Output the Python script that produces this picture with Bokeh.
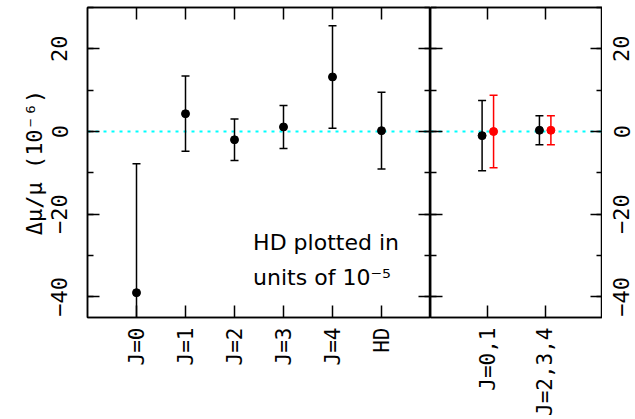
import math
from bokeh.plotting import figure
from bokeh.models import (FixedTicker, SingleIntervalTicker, LinearAxis, Span, Label, Range1d)
from bokeh.layouts import row
from bokeh.embed import file_html
from bokeh.resources import INLINE

# ---------------- data ----------------
left_labels = ["J=0", "J=1", "J=2", "J=3", "J=4", "HD"]
left_values = [-39.0, 4.3, -2.0, 1.1, 13.2, 0.2]
left_errors = [31.2, 9.1, 5.0, 5.2, 12.4, 9.3]

right_labels = ["J=0,1", "J=2,3,4"]
right_black_values = [-1.0, 0.3]
right_black_errors = [8.5, 3.5]
right_red_values = [0.0, 0.3]
right_red_errors = [8.8, 3.5]

y_tick_values = [-40, -20, 0, 20]
y_tick_labels = ["\u221240", "\u221220", "0", "20"]

y_title = "\u0394\u03bc/\u03bc (10\u207b\u2076)"
note_line1 = "HD plotted in"
note_line2 = "units of 10\u207b\u2075"

FONT = "DejaVu Sans"
MONO = "DejaVu Sans Mono"
FS = "22px"
LW = 1.5
CYAN = "#00ffff"
CCW = math.pi / 2
Y_MIN, Y_MAX = -45, 30


def base_fig(width, xr, min_left, min_right):
    p = figure(width=width, height=419, x_range=xr, y_range=Range1d(Y_MIN, Y_MAX),
               output_backend="svg", toolbar_location=None,
               x_axis_location=None, y_axis_location=None,
               min_border_left=min_left, min_border_right=min_right,
               min_border_top=7, min_border_bottom=100)
    p.grid.visible = False
    p.outline_line_color = "black"
    p.outline_line_width = LW
    p.background_fill_color = "white"
    p.border_fill_color = "white"
    return p


def style_axis(ax, show_labels, size=FS):
    ax.major_tick_in = 12
    ax.major_tick_out = 0
    ax.minor_tick_in = 6
    ax.minor_tick_out = 0
    ax.axis_line_width = LW
    ax.major_tick_line_width = LW
    ax.minor_tick_line_width = LW
    ax.axis_line_color = "black"
    ax.major_tick_line_color = "black"
    ax.minor_tick_line_color = "black"
    if show_labels:
        ax.major_label_text_font = MONO
        ax.major_label_text_font_size = size
        ax.major_label_text_color = "black"
    else:
        ax.major_label_text_font_size = "1px"
        ax.major_label_text_color = None
        ax.major_label_standoff = 0
    return ax


def y_axis(show_labels):
    ax = LinearAxis(ticker=SingleIntervalTicker(interval=20, num_minor_ticks=2))
    ax.major_label_overrides = dict(zip(y_tick_values, y_tick_labels))
    return style_axis(ax, show_labels)


def x_axis(ticks, labels, show_labels):
    ax = LinearAxis(ticker=FixedTicker(ticks=ticks, minor_ticks=[]))
    ax.major_label_overrides = dict(zip(ticks, labels))
    style_axis(ax, show_labels, "21px")
    ax.minor_tick_in = 0
    if show_labels:
        ax.major_label_orientation = CCW
        ax.major_label_standoff = 10
    return ax


def draw_points(p, xs, vals, errs, color):
    up = [v + e for v, e in zip(vals, errs)]
    lo = [v - e for v, e in zip(vals, errs)]
    p.segment(x0=xs, y0=lo, x1=xs, y1=up, line_color=color, line_width=LW)
    p.scatter(xs, up, marker="dash", size=8, line_color=color, line_width=LW)
    p.scatter(xs, lo, marker="dash", size=8, line_color=color, line_width=LW)
    p.scatter(xs, vals, marker="circle", size=8, fill_color=color, line_color=color)


# ---------------- left panel ----------------
p1 = base_fig(430, Range1d(0, len(left_labels) + 1), 87, 0)
lx = [i + 1 for i in range(len(left_labels))]

ax = y_axis(True)
ax.major_label_orientation = "vertical"
ax.major_label_standoff = 20
ax.axis_label = y_title
ax.axis_label_text_font = MONO
ax.axis_label_text_font_size = FS
ax.axis_label_text_font_style = "normal"
ax.axis_label_text_color = "black"
ax.axis_label_standoff = 2
p1.add_layout(ax, "left")
p1.add_layout(y_axis(False), "right")
p1.add_layout(x_axis(lx, left_labels, True), "below")
p1.add_layout(x_axis(lx, left_labels, False), "above")

p1.add_layout(Span(location=0, dimension="width", line_color=CYAN, line_width=2,
                   line_dash="3 5", level="underlay"))
draw_points(p1, lx, left_values, left_errors, "black")

p1.add_layout(Label(x=3.38, y=-26.8, text=note_line1, text_font=FONT,
                    text_font_size=FS, text_baseline="alphabetic", text_color="black"))
p1.add_layout(Label(x=3.38, y=-35.4, text=note_line2, text_font=FONT,
                    text_font_size=FS, text_baseline="alphabetic", text_color="black"))

# ---------------- right panel ----------------
p2 = base_fig(172, Range1d(0, len(right_labels) + 1), 0, 0)
rx = [i + 1 for i in range(len(right_labels))]
offset = 0.1

p2.add_layout(y_axis(False), "right")
p2.add_layout(y_axis(False), "left")
p2.add_layout(x_axis(rx, right_labels, True), "below")
p2.add_layout(x_axis(rx, right_labels, False), "above")

p2.add_layout(Span(location=0, dimension="width", line_color=CYAN, line_width=2,
                   line_dash="3 5", level="underlay"))
draw_points(p2, [x - offset for x in rx], right_black_values, right_black_errors, "black")
draw_points(p2, [x + offset for x in rx], right_red_values, right_red_errors, "red")

# ---------------- right-hand tick labels (thin strip) ----------------
p3 = figure(width=33, height=419, x_range=Range1d(0, 1), y_range=Range1d(Y_MIN, Y_MAX),
            output_backend="svg", toolbar_location=None,
            x_axis_location=None, y_axis_location=None,
            min_border_left=32, min_border_right=0,
            min_border_top=7, min_border_bottom=100)
p3.grid.visible = False
p3.outline_line_color = None
p3.background_fill_color = "white"
p3.border_fill_color = "white"
lab = y_axis(True)
lab.major_label_orientation = "vertical"
lab.major_label_standoff = 5
lab.axis_line_color = None
lab.major_tick_in = 0
lab.minor_tick_in = 0
lab.major_tick_line_color = None
lab.minor_tick_line_color = None
p3.add_layout(lab, "left")

layout = row(p1, p2, p3)
open("out.html", "w").write(file_html(layout, INLINE))
